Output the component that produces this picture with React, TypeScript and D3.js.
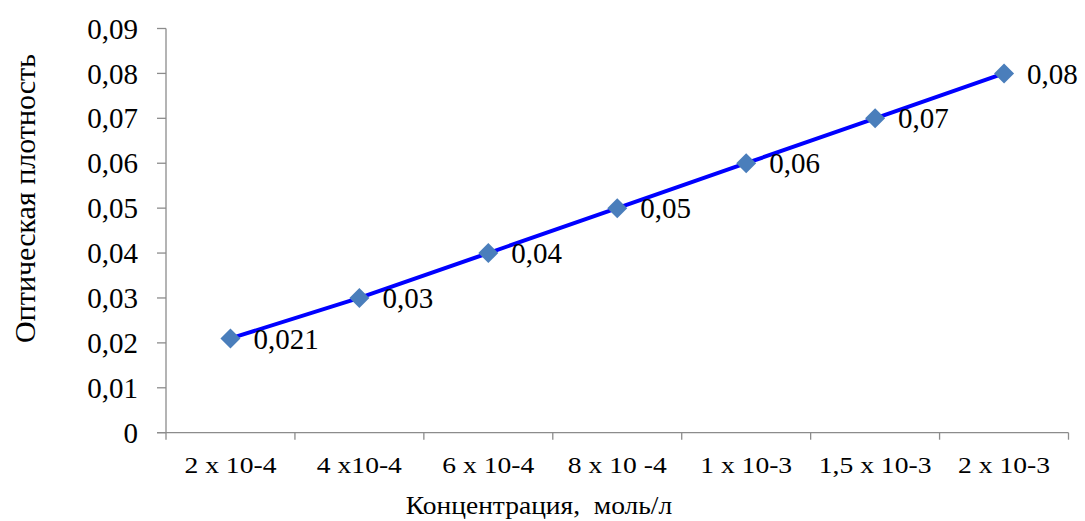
import React from "react";
import * as d3 from "d3";

const categories = ["2 x 10-4", "4 x10-4", "6 x 10-4", "8 x 10 -4", "1 x 10-3", "1,5 x 10-3", "2 x 10-3"];
const values = [0.021, 0.03, 0.04, 0.05, 0.06, 0.07, 0.08];
const valueLabels = ["0,021", "0,03", "0,04", "0,05", "0,06", "0,07", "0,08"];
const yTicks = [0, 0.01, 0.02, 0.03, 0.04, 0.05, 0.06, 0.07, 0.08, 0.09];
const yTickLabels = ["0", "0,01", "0,02", "0,03", "0,04", "0,05", "0,06", "0,07", "0,08", "0,09"];
const xTitle = "Концентрация,  моль/л";
const yTitle = "Оптическая плотность";

export default function App() {
  const W = 1085, H = 521;
  const left = 166, right = 1068.5, top = 28.5, bottom = 432.7;
  const x = d3.scaleBand<string>().domain(categories).range([left, right]);
  const y = d3.scaleLinear().domain([0, 0.09]).range([bottom, top]);
  const line = d3.line<number>()
    .x((_, i) => (x(categories[i]) as number) + x.bandwidth() / 2)
    .y((d) => y(d));
  const font = "'Liberation Serif', 'Times New Roman', serif";
  const axisColor = "#8c8c8c";
  const boundaries = d3.range(categories.length + 1).map((i) => left + i * x.bandwidth());
  return (
    <svg width={W} height={H} style={{ position: "absolute", left: 0, top: 0, background: "#fff" }} fontFamily={font}>
      {/* y axis */}
      <line x1={left} x2={left} y1={top} y2={bottom} stroke={axisColor} strokeWidth={1.3} />
      {yTicks.map((t, i) => (
        <g key={i}>
          <line x1={left - 9} x2={left} y1={y(t)} y2={y(t)} stroke={axisColor} strokeWidth={1.3} />
          <text x={138} y={y(t)} dy="0.35em" textAnchor="end" fontSize={29} fill="#000">
            {yTickLabels[i]}
          </text>
        </g>
      ))}
      {/* x axis */}
      <line x1={left - 9} x2={right} y1={bottom} y2={bottom} stroke={axisColor} strokeWidth={1.3} />
      {boundaries.map((b, i) => (
        <line key={i} x1={b} x2={b} y1={bottom} y2={bottom + 7} stroke={axisColor} strokeWidth={1.3} />
      ))}
      {categories.map((c, i) => (
        <text
          key={c}
          transform={`translate(${(x(c) as number) + x.bandwidth() / 2},473) scale(1.2,1)`}
          textAnchor="middle"
          fontSize={23}
          fill="#000"
        >
          {c}
        </text>
      ))}
      {/* line */}
      <path d={line(values) || ""} fill="none" stroke="#0000ff" strokeWidth={4} />
      {values.map((v, i) => {
        const cx = (x(categories[i]) as number) + x.bandwidth() / 2;
        const cy = y(v);
        return (
          <g key={i}>
            <path d={`M${cx},${cy - 10}L${cx + 10},${cy}L${cx},${cy + 10}L${cx - 10},${cy}Z`} fill="#4a7ebb" />
            <text x={cx + 23} y={cy} dy="0.35em" fontSize={29} fill="#000">
              {valueLabels[i]}
            </text>
          </g>
        );
      })}
      {/* titles */}
      <text
        transform="translate(539,514) scale(1.1,1)"
        textAnchor="middle"
        fontSize={25}
        fill="#000"
        style={{ whiteSpace: "pre" }}
      >
        {xTitle}
      </text>
      <text transform={`translate(35,198.5) rotate(-90)`} textAnchor="middle" fontSize={30} fill="#000">{yTitle}</text>
    </svg>
  );
}
